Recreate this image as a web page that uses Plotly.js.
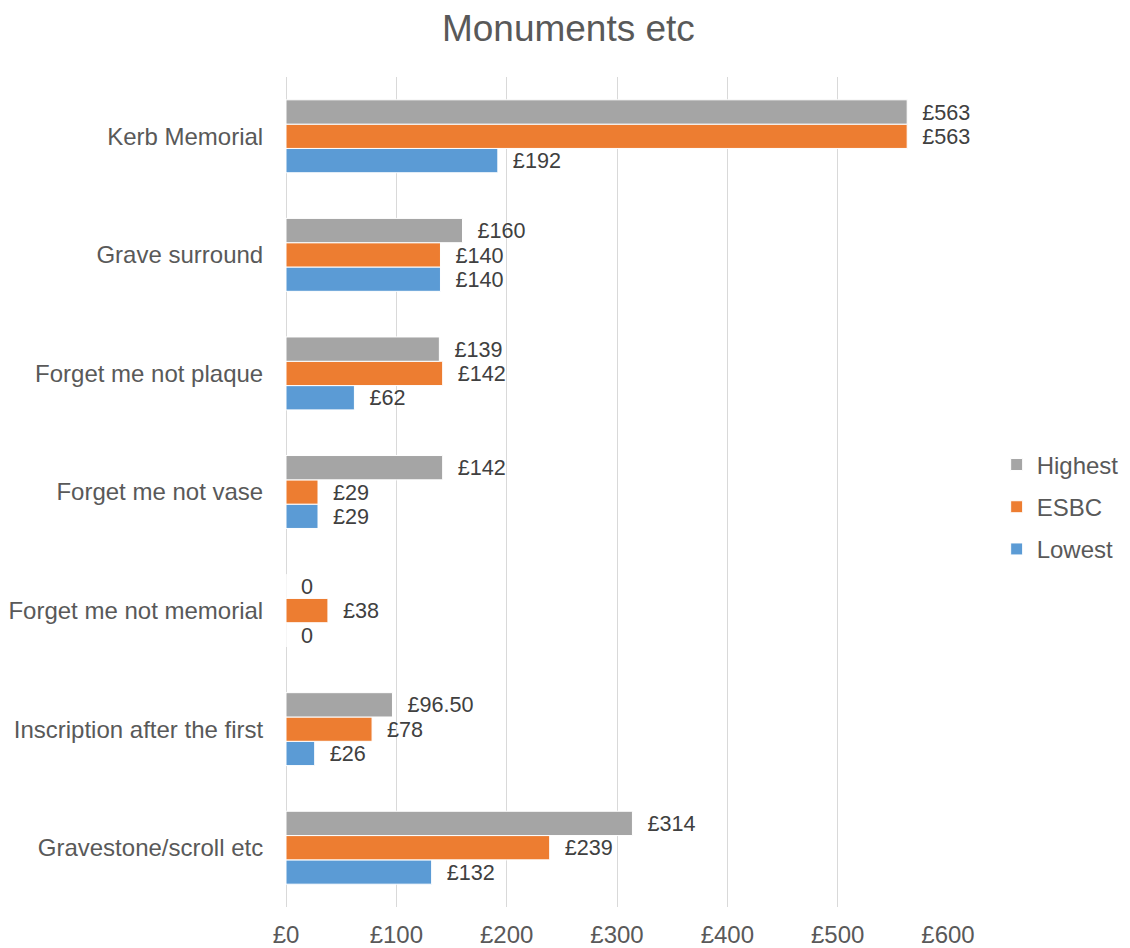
<!DOCTYPE html>
<html>
<head>
<meta charset="utf-8">
<script src="https://cdn.plot.ly/plotly-3.0.1.min.js"></script>
<style>html,body{margin:0;padding:0;background:#fff;}#chart{width:1130px;height:948px;}</style>
</head>
<body>
<div id="chart"></div>
<script>
const categories = ["Gravestone/scroll etc", "Inscription after the first", "Forget me not memorial", "Forget me not vase", "Forget me not plaque", "Grave surround", "Kerb Memorial"];
const lowest  = [132, 26, 0, 29, 62, 140, 192];
const esbc    = [239, 78, 38, 29, 142, 140, 563];
const highest = [314, 96.5, 0, 142, 139, 160, 563];
const xTickVals = [0, 100, 200, 300, 400, 500, 600];
const xTickText = ["£0", "£100", "£200", "£300", "£400", "£500", "£600"];

function fmt(v) {
  if (v === 0) return "  0";
  const s = Number.isInteger(v) ? String(v) : v.toFixed(2);
  return "  £" + s;
}

function trace(name, vals, color, rank) {
  return {
    type: "bar", orientation: "h", name: name, legendgroup: name, legendrank: rank,
    y: categories, x: vals,
    text: vals.map(fmt), textposition: "outside", cliponaxis: false,
    textfont: {family: "Liberation Sans, Arial, sans-serif", size: 24, color: "#404040"},
    marker: {color: color, line: {color: "#ffffff", width: 1}},
    hoverinfo: "x+name"
  };
}

const data = [
  trace("Lowest", lowest, "#5B9BD5", 3),
  trace("ESBC", esbc, "#ED7D31", 2),
  trace("Highest", highest, "#A5A5A5", 1)
];

const layout = {
  width: 1130, height: 948,
  margin: {l: 286, r: 182, t: 77, b: 41, autoexpand: false},
  paper_bgcolor: "#ffffff", plot_bgcolor: "#ffffff",
  font: {family: "Liberation Sans, Arial, sans-serif", color: "#595959"},
  title: {text: "Monuments etc", font: {size: 37, color: "#595959"}, x: 0.503, xref: "container", y: 0.97, yref: "container", yanchor: "middle"},
  barmode: "group", bargap: 0.385, bargroupgap: 0,
  xaxis: {
    range: [0, 600], tickvals: xTickVals, ticktext: xTickText,
    showgrid: true, gridcolor: "#D9D9D9", gridwidth: 1,
    zeroline: true, zerolinecolor: "#D9D9D9", zerolinewidth: 1,
    showline: false, ticks: "outside", ticklen: 6, tickcolor: "rgba(0,0,0,0)",
    tickfont: {size: 24, color: "#595959"}, fixedrange: true
  },
  yaxis: {
    type: "category", showgrid: false, zeroline: false, showline: false,
    ticks: "outside", ticklen: 17, tickcolor: "rgba(0,0,0,0)",
    tickfont: {size: 24, color: "#595959"}, fixedrange: true
  },
  legend: {
    xref: "container", x: 0.882, xanchor: "left", y: 0.482, yanchor: "middle",
    traceorder: "grouped", tracegroupgap: 8,
    font: {size: 24, color: "#595959"}, itemwidth: 30
  },
  showlegend: true
};

Plotly.newPlot("chart", data, layout, {displayModeBar: false, staticPlot: true});
</script>
</body>
</html>
